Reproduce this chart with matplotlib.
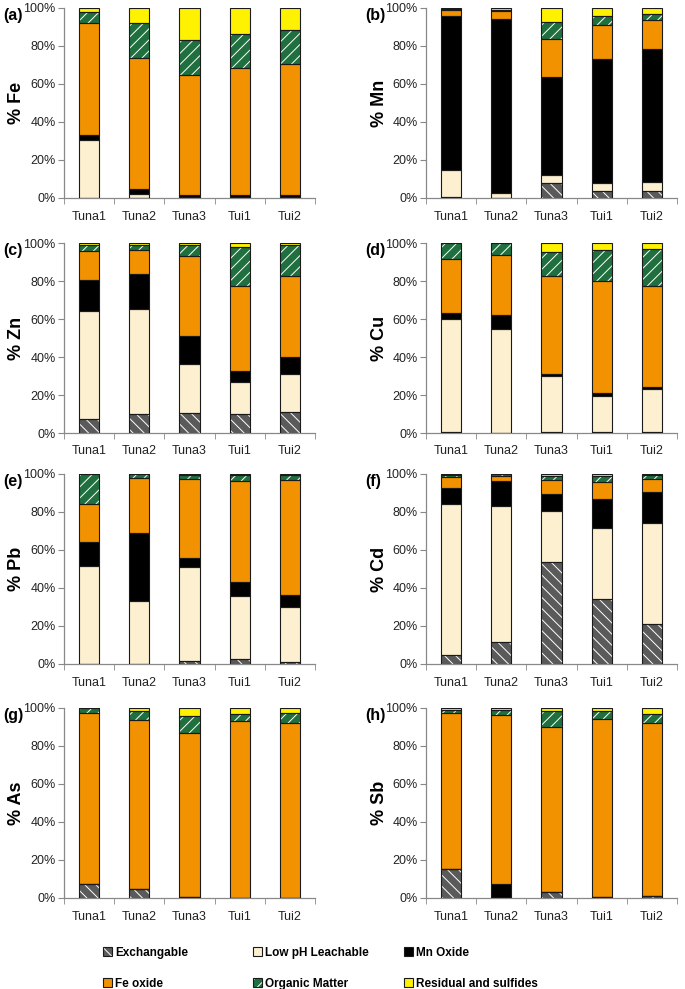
import matplotlib
matplotlib.use("Agg")
import matplotlib.pyplot as plt
from matplotlib.patches import Patch
from matplotlib.ticker import FuncFormatter, FixedLocator
import numpy as np

plt.rcParams['font.family'] = ['Liberation Sans', 'DejaVu Sans']
plt.rcParams['hatch.linewidth'] = 0.7

sites = ["Tuna1", "Tuna2", "Tuna3", "Tui1", "Tui2"]
fractions = ["Exchangable", "Low pH Leachable", "Mn Oxide",
             "Fe oxide", "Organic Matter", "Residual and sulfides"]

# rows: Exchangable, Low pH, Mn oxide, Fe oxide, Organic matter, Residual
fe = [[0, 0, 0, 0, 0],
      [30.3, 2, 0.3, 0.5, 0.5],
      [2.7, 2.7, 1.1, 1.2, 1.2],
      [59, 68.9, 63.4, 66.6, 68.7],
      [6, 18.7, 18.4, 18, 18],
      [2, 7.7, 16.8, 13.7, 11.6]]
mn = [[0.5, 0, 7.9, 3.5, 3.5],
      [14.4, 2.6, 4.2, 4.4, 4.9],
      [80.9, 91.6, 51.6, 65.3, 70.1],
      [3, 4, 20, 18, 15.2],
      [0.5, 1, 8.9, 4.8, 3.1],
      [0.7, 0.8, 7.4, 4, 3.2]]
zn = [[7.6, 10, 10.4, 9.9, 10.9],
      [56.8, 55.3, 25.9, 16.9, 20.3],
      [16, 18.5, 14.5, 6, 8.7],
      [15.4, 12.5, 42.1, 44.8, 42.6],
      [3, 2.8, 6.2, 20.1, 16.3],
      [1.2, 0.9, 0.9, 2.3, 1.2]]
cu = [[0.3, 0, 0.7, 0.5, 0.5],
      [59.7, 54.7, 29.3, 19.1, 22.8],
      [3.1, 7.4, 0.9, 1.2, 1],
      [28.4, 31.7, 51.6, 59.1, 53.1],
      [8.3, 6.2, 12.6, 16.6, 19.6],
      [0.2, 0, 4.9, 3.5, 3]]
pb = [[0, 0, 1.8, 2.5, 1.2],
      [51.5, 32.9, 49.4, 33.4, 28.7],
      [12.7, 36.1, 4.4, 7.3, 6.2],
      [20.2, 28.7, 41.6, 53.3, 60.9],
      [15.6, 2.3, 2.3, 3.1, 2.6],
      [0, 0, 0.5, 0.4, 0.4]]
cd = [[4.9, 11.5, 53.8, 34, 21.3],
      [79.1, 71.7, 26.6, 37.8, 53.1],
      [8.6, 13.3, 9, 14.8, 16.1],
      [5.8, 2.3, 7.2, 9, 7],
      [1.1, 1, 2.5, 3.5, 2.1],
      [0.5, 0.2, 0.9, 0.9, 0.4]]
as_ = [[7.2, 4.6, 0.3, 0, 0],
       [0, 0, 0, 0, 0],
       [0.3, 0.3, 0.2, 0.2, 0.2],
       [89.7, 88.8, 86.3, 92.8, 91.7],
       [2.6, 4.5, 8.8, 3.7, 5.5],
       [0.2, 1.8, 4.4, 3.3, 2.6]]
sb = [[15.4, 0, 3, 0.5, 0.9],
      [0, 0, 0, 0, 0],
      [0, 7.5, 0, 0.2, 0.3],
      [81.8, 88.8, 86.9, 93.4, 90.8],
      [1.9, 2.8, 8.4, 4.2, 5],
      [0.9, 0.9, 1.7, 1.7, 3]]

panels = [("(a)", "Fe", fe), ("(b)", "Mn", mn), ("(c)", "Zn", zn), ("(d)", "Cu", cu),
          ("(e)", "Pb", pb), ("(f)", "Cd", cd), ("(g)", "As", as_), ("(h)", "Sb", sb)]

colors = ["#5a5a5a", "#fdf0d0", "#000000", "#f39200", "#1f6f3f", "#fff200"]
hatches = ["\\\\\\", None, None, None, "///", None]

fig = plt.figure(figsize=(6.85, 9.89), dpi=100)
W, H = 685, 989
tops = [8, 243, 474, 708]
lefts = [64, 426]
ylab_x = [25, 388]
aw, ah = 251, 190

x = np.arange(len(sites))
for i, (lab, el, data) in enumerate(panels):
    r, c = divmod(i, 2)
    ax = fig.add_axes([lefts[c] / W, 1 - (tops[r] + ah) / H, aw / W, ah / H])
    bottom = np.zeros(len(sites))
    for k in range(6):
        vals = np.array(data[k], dtype=float)
        ax.bar(x, vals, 0.4, bottom=bottom, color=colors[k], edgecolor="none", zorder=2)
        if hatches[k]:
            ax.bar(x, vals, 0.4, bottom=bottom, color="none", edgecolor="white",
                   hatch=hatches[k], linewidth=0, zorder=3)
        ax.bar(x, vals, 0.4, bottom=bottom, color="none", edgecolor="#1a1a1a",
               linewidth=0.8, zorder=4)
        bottom += vals
    ax.set_xlim(-0.5, 4.5)
    ax.set_ylim(0, 100)
    ax.set_yticks([0, 20, 40, 60, 80, 100])
    ax.yaxis.set_major_formatter(FuncFormatter(lambda v, p: "%d%%" % v))
    ax.set_xticks(x)
    ax.set_xticklabels(sites)
    ax.xaxis.set_minor_locator(FixedLocator(np.arange(-0.5, 5, 1)))
    ax.tick_params(axis="x", which="major", length=0, pad=9, labelsize=9, colors="#222222")
    ax.tick_params(axis="x", which="minor", length=4, color="#888888", direction="out")
    ax.tick_params(axis="y", length=4, color="#888888", labelsize=9, pad=2, labelcolor="#222222")
    for s in ["top", "right"]:
        ax.spines[s].set_visible(False)
    for s in ["left", "bottom"]:
        ax.spines[s].set_color("#888888")
        ax.spines[s].set_linewidth(0.9)
    ax.set_ylabel("% " + el, fontsize=13, fontweight="bold")
    ax.yaxis.set_label_coords((ylab_x[c] - lefts[c]) / aw, 0.5)
    fig.text((lefts[c] - 61) / W, 1 - 20 / H - (tops[r] - 8) / H, lab,
             fontsize=11.5, fontweight="bold")

def handle(k):
    parts = [Patch(facecolor=colors[k], edgecolor="none")]
    if hatches[k]:
        parts.append(Patch(facecolor="none", edgecolor="white", hatch=hatches[k], linewidth=0))
    parts.append(Patch(facecolor="none", edgecolor="#1a1a1a", linewidth=0.8))
    return tuple(parts)

col_x = [97, 247, 398]
for j in range(3):
    ks = [j, j + 3]
    fig.legend([handle(k) for k in ks], [fractions[k] for k in ks],
               loc="upper left", bbox_to_anchor=(col_x[j] / W, 1 - 941 / H),
               frameon=False, ncol=1, handlelength=0.8, handleheight=0.8,
               handletextpad=0.25, labelspacing=1.6, borderpad=0,
               prop={"weight": "bold", "size": 8.5})

fig.savefig("out.png", dpi=100)
